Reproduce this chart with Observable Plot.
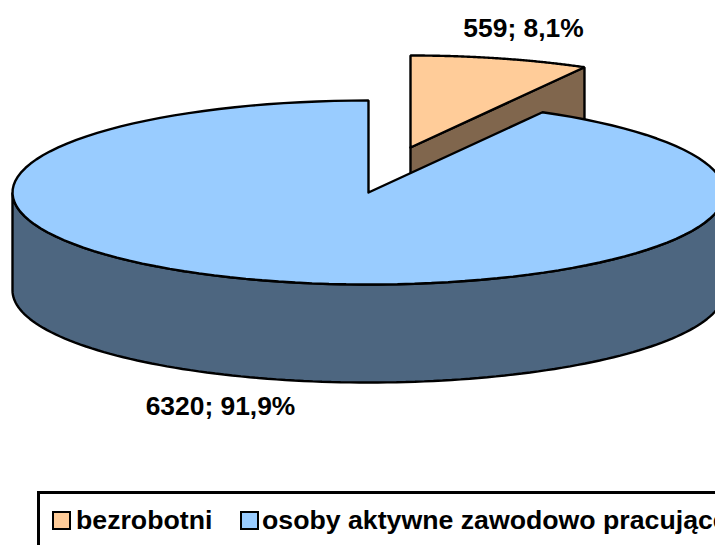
<!DOCTYPE html>
<html><head><meta charset="utf-8">
<script src="https://cdn.jsdelivr.net/npm/d3@7"></script>
<script src="https://cdn.jsdelivr.net/npm/@observablehq/plot@0.6"></script>
<style>
html,body{margin:0;padding:0;background:#fff;overflow:hidden;width:715px;height:545px}
#wrap{position:relative;width:715px;height:545px;overflow:hidden;font-family:"Liberation Sans",Arial,sans-serif;font-weight:bold}
#legend{position:absolute;left:37px;top:491px;width:800px;height:70px;border:3px solid #000;box-sizing:border-box;font-size:26.7px;color:#000}
.sw{position:absolute;top:17px;width:19px;height:19px;border:2px solid #000;box-sizing:border-box}
.lb{position:absolute;top:11px;white-space:nowrap;line-height:30px}
</style></head><body><div id="wrap"></div>
<script>
const categories = ["bezrobotni", "osoby aktywne zawodowo pracujące"];
const values = [559, 6320];
const pointLabels = ["559; 8,1%", "6320; 91,9%"];
const topColors = ["#FFCC99", "#99CCFF"];
const sideColors = ["#80664D", "#4D6680"];

const W = 715, H = 488;
const cx = 368, cy = 192, rx = 356, ry = 92, depth = 98;
const dx = 42, dy = -45; // explosion of first slice
const total = d3.sum(values);
const a1 = values[0] / total * 2 * Math.PI;

const P = (a, ox = 0, oy = 0) => ({x: cx + ox + rx * Math.sin(a), y: cy + oy - ry * Math.cos(a)});
const arc = (a0, a, ox, oy) => d3.range(0, 121).map(i => P(a0 + (a - a0) * i / 120, ox, oy));
const C = (ox = 0, oy = 0) => ({x: cx + ox, y: cy + oy});

const slice0Top = [C(dx, dy), ...arc(0, a1, dx, dy), C(dx, dy)];
const slice0Wall = [C(dx, dy), P(a1, dx, dy), P(a1, dx, dy + depth), C(dx, dy + depth), C(dx, dy)];
const slice1Top = [C(), ...arc(a1, 2 * Math.PI, 0, 0), C()];
const front = arc(Math.PI / 2, 3 * Math.PI / 2, 0, 0);
const slice1Wall = [...front, ...front.slice().reverse().map(p => ({x: p.x, y: p.y + depth})), front[0]];

const poly = (pts, fill) => Plot.line(pts, {x: "x", y: "y", fill, stroke: "#000", strokeWidth: 2.4, strokeLinejoin: "miter", curve: "linear"});

const labelData = [
  {x: 523, y: 28, t: pointLabels[0]},
  {x: 220, y: 406, t: pointLabels[1]}
];

const chart = Plot.plot({
  width: W, height: H, margin: 0,
  style: {background: "transparent", overflow: "hidden"},
  x: {domain: [0, W], range: [0, W], axis: null},
  y: {domain: [0, H], range: [0, H], axis: null},
  marks: [
    poly(slice0Wall, sideColors[0]),
    poly(slice0Top, topColors[0]),
    poly(slice1Wall, sideColors[1]),
    poly(slice1Top, topColors[1]),
    Plot.text(labelData, {x: "x", y: "y", text: "t", fontSize: 26.4, fontWeight: "bold", fontFamily: "Liberation Sans", fill: "#000", textAnchor: "middle"})
  ]
});
const wrap = document.getElementById("wrap");
wrap.appendChild(chart);

const legend = document.createElement("div");
legend.id = "legend";
const swX = [12, 200], lbX = [36, 222];
categories.forEach((c, i) => {
  const s = document.createElement("div");
  s.className = "sw"; s.style.left = swX[i] + "px"; s.style.background = topColors[i];
  const l = document.createElement("div");
  l.className = "lb"; l.style.left = lbX[i] + "px"; l.textContent = c;
  legend.append(s, l);
});
wrap.appendChild(legend);
</script></body></html>
